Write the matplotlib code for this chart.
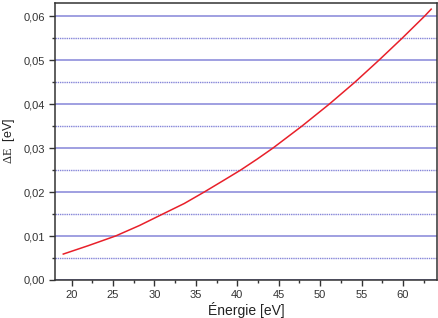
import matplotlib
matplotlib.use("Agg")
import matplotlib.pyplot as plt
from matplotlib.ticker import MultipleLocator, FuncFormatter

energy = [19.0, 22.0, 25.3, 28.2, 31.0, 33.6, 36.0, 38.3, 40.4, 42.4, 44.3, 47.8, 51.1, 54.2, 57.1, 59.9, 62.6, 63.4]
delta_e = [0.0059, 0.0078, 0.0100, 0.0124, 0.0150, 0.0174, 0.0200, 0.0226, 0.0250, 0.0275, 0.0300, 0.0350, 0.0400, 0.0450, 0.0500, 0.0550, 0.0600, 0.0616]

plt.rcParams['font.family'] = ['Liberation Sans', 'DejaVu Sans']
plt.rcParams['mathtext.fontset'] = 'custom'
plt.rcParams['mathtext.rm'] = 'Liberation Serif'

fig = plt.figure(figsize=(4.39, 3.18), dpi=100)
ax = fig.add_axes([0.1253, 0.1195, 0.9954 - 0.1253, 0.9906 - 0.1195])

ax.set_xlim(18.0, 64.1)
ax.set_ylim(0.0, 0.0630)

ax.yaxis.set_major_locator(MultipleLocator(0.01))
ax.yaxis.set_minor_locator(MultipleLocator(0.005))
ax.xaxis.set_major_locator(MultipleLocator(5))
ax.xaxis.set_minor_locator(MultipleLocator(2.5))

ax.yaxis.set_major_formatter(FuncFormatter(lambda v, p: f"{v:.2f}".replace('.', ',')))
ax.xaxis.set_major_formatter(FuncFormatter(lambda v, p: f"{v:.0f}"))

grid_color = '#8585d8'
ax.grid(True, which='major', axis='y', color=grid_color, linewidth=1.1, linestyle='-')
ax.grid(True, which='minor', axis='y', color=grid_color, linewidth=1.0, linestyle=(0, (1, 0.6)))
ax.set_axisbelow(True)

ax.plot(energy, delta_e, color='#e8202a', linewidth=1.1)

for s in ax.spines.values():
    s.set_color('#333333')
    s.set_linewidth(1.1)

ax.tick_params(which='major', direction='out', length=4, width=1, colors='#333333',
               labelsize=8, labelcolor='#333333', top=False, right=False, pad=3)
ax.tick_params(which='minor', direction='out', length=2.5, width=1, colors='#333333',
               top=False, right=False)

ax.set_xlabel('Énergie [eV]', fontsize=10, color='#222222', labelpad=2)
ax.set_ylabel(r'$\mathrm{\Delta E}$  [eV]', fontsize=9, color='#222222', labelpad=5)

fig.savefig('out.png', dpi=100)
